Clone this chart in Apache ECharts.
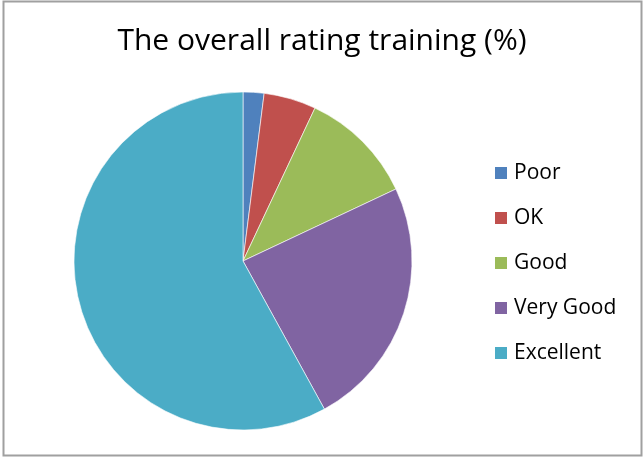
<!DOCTYPE html>
<html>
<head>
<meta charset="utf-8">
<script src="https://cdn.jsdelivr.net/npm/echarts@6/dist/echarts.min.js"></script>
<style>
  html, body { margin: 0; padding: 0; background: #fff; }
  #chart { width: 644px; height: 458px; }
</style>
</head>
<body>
<div id="chart"></div>
<script>
const categories = ['Poor', 'OK', 'Good', 'Very Good', 'Excellent']
const values = [2, 5, 11, 24, 58]
const colors = ['#4F81BD', '#C0504D', '#9BBB59', '#8064A2', '#4BACC6']

const chart = echarts.init(document.getElementById('chart'))

const option = {
  animation: false,
  color: colors,
  title: {
    text: 'The overall rating training (%)',
    left: 'center',
    top: 21,
    textStyle: {
      fontFamily: 'Open Sans',
      fontWeight: 'normal',
      fontSize: 30,
      color: '#000'
    }
  },
  legend: {
    orient: 'vertical',
    left: 493,
    top: 162.5,
    padding: 0,
    itemWidth: 14,
    itemHeight: 14,
    itemGap: 24,
    icon: 'rect',
    data: categories,
    textStyle: { fontFamily: 'Open Sans', fontSize: 21, lineHeight: 20, color: '#000', padding: [0, 0, 0, 1] }
  },
  graphic: [{
    type: 'rect',
    shape: { x: 3.5, y: 1.5, width: 638, height: 454 },
    style: { fill: 'none', stroke: '#a0a0a0', lineWidth: 2 },
    silent: true
  }],
  series: [{
    type: 'pie',
    center: [243, 261],
    radius: 169,
    startAngle: 90,
    clockwise: true,
    label: { show: false },
    labelLine: { show: false },
    itemStyle: { borderColor: '#ffffff', borderWidth: 0.6 },
    data: categories.map((name, i) => ({ name, value: values[i] }))
  }]
}

chart.setOption(option)
</script>
</body>
</html>
